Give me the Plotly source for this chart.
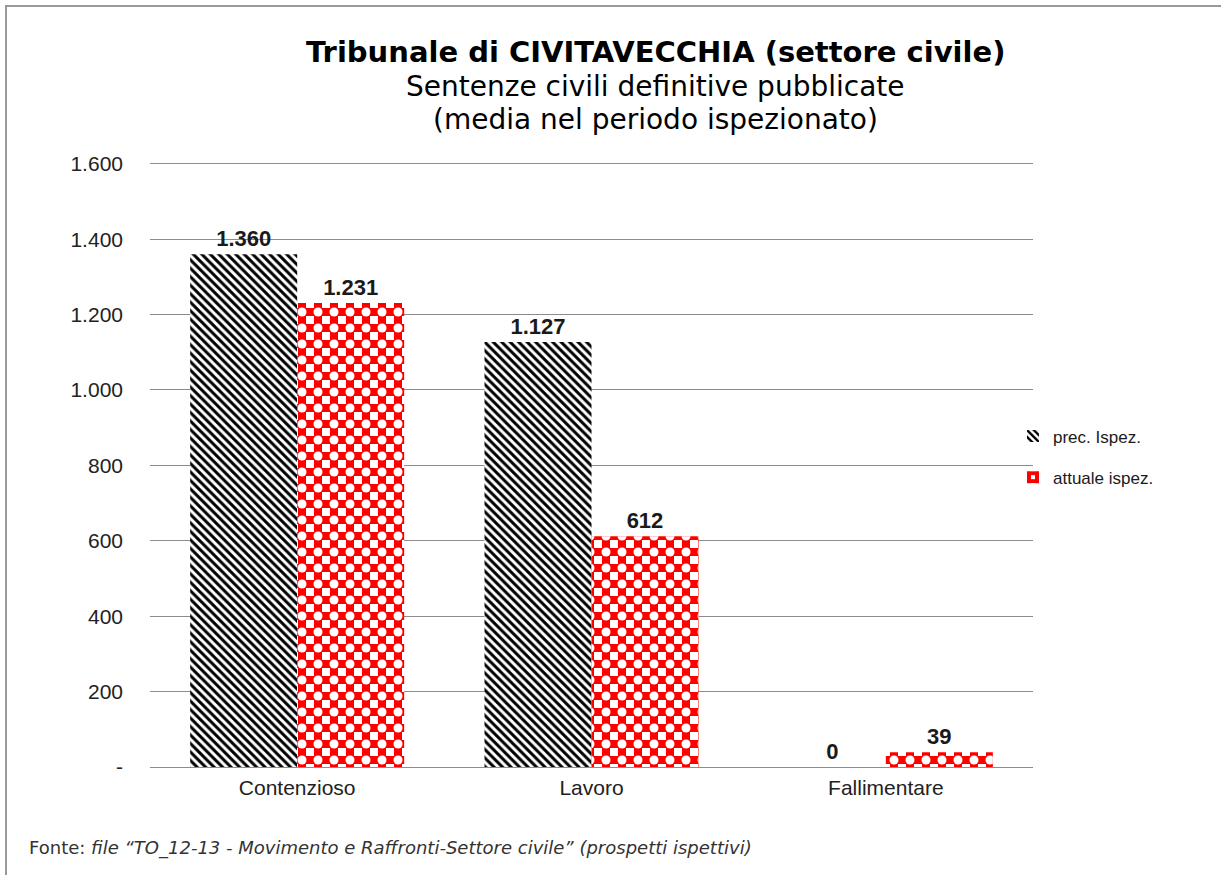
import plotly.graph_objects as go

# data
categories = ["Contenzioso", "Lavoro", "Fallimentare"]
prec_ispez = [1360, 1127, 0]
attuale_ispez = [1231, 612, 39]
series_names = ["prec. Ispez.", "attuale ispez."]

tick_vals = [0, 200, 400, 600, 800, 1000, 1200, 1400, 1600]
tick_text = ["-", "200", "400", "600", "800", "1.000", "1.200", "1.400", "1.600"]

title_lines = ["Tribunale di CIVITAVECCHIA (settore civile)",
               "Sentenze civili definitive pubblicate",
               "(media nel periodo ispezionato)"]
source_note = ("Fonte: <i>file \u201cTO_12-13 - Movimento e Raffronti-Settore civile\u201d "
               "(prospetti ispettivi)</i>")

W, H = 1221, 875
L, R, T, B = 150, 188, 160, 108
PW, PH = W - L - R, H - T - B


def px_x(x):
    # page pixel -> paper x
    return (x - L) / PW


def px_y(y):
    # page pixel -> paper y
    return (H - B - y) / PH


label_font = dict(family="Liberation Sans, Arial", size=22, color="#1a1a1a")

fig = go.Figure()

# previous inspection: black diagonal hatch
fig.add_trace(go.Bar(
    x=categories, y=prec_ispez, name=series_names[0],
    offsetgroup="prec", legendgroup="prec",
    marker=dict(color="white", line_width=0,
                pattern=dict(shape="\\", fgcolor="black", bgcolor="white",
                             size=6, solidity=0.5, fgopacity=1)),
    texttemplate="<b>%{y:,}</b>", textposition="outside",
    textfont=label_font, cliponaxis=False,
))

# current inspection: red checkerboard, built from a red grid ...
fig.add_trace(go.Bar(
    x=categories, y=attuale_ispez, name=series_names[1],
    offsetgroup="att", legendgroup="att",
    marker=dict(color="white", line_width=0,
                pattern=dict(shape="+", fgcolor="#ff0000", bgcolor="white",
                             size=16, solidity=0.75, fgopacity=1)),
    texttemplate="<b>%{y:,}</b>", textposition="outside",
    textfont=label_font, cliponaxis=False,
))
# ... with a white dot punched into every grid crossing
fig.add_trace(go.Bar(
    x=categories, y=attuale_ispez, name=series_names[1],
    offsetgroup="att", legendgroup="att", showlegend=False, hoverinfo="skip",
    marker=dict(color="rgba(0,0,0,0)", line_width=0,
                pattern=dict(shape=".", fgcolor="white", bgcolor="rgba(0,0,0,0)",
                             size=16, solidity=0.25, fgopacity=1)),
))

# title block
title_y = [52, 86, 119]
title_size = [29, 28, 28]
for i, (line, py, fs) in enumerate(zip(title_lines, title_y, title_size)):
    text = "<b>" + line + "</b>" if i == 0 else line
    fig.add_annotation(
        text=text, xref="paper", yref="paper",
        x=px_x(655), y=px_y(py),
        xanchor="center", yanchor="middle", showarrow=False,
        font=dict(family="DejaVu Sans", size=fs, color="black"),
    )

fig.add_annotation(
    text=source_note, xref="paper", yref="paper",
    x=px_x(27), y=px_y(848),
    xanchor="left", yanchor="middle", showarrow=False,
    font=dict(family="DejaVu Sans", size=18, color="#333333"),
)

# outer chart border
fig.add_shape(
    type="rect", xref="paper", yref="paper",
    x0=px_x(6), x1=1.5, y0=-0.5, y1=px_y(6),
    line=dict(color="#999999", width=2), fillcolor="rgba(0,0,0,0)",
)

fig.update_layout(
    width=W, height=H,
    margin=dict(l=L, r=R, t=T, b=B),
    plot_bgcolor="white", paper_bgcolor="white",
    barmode="group", bargap=0.273, bargroupgap=0,
    separators=",.",
    showlegend=True,
    legend=dict(x=px_x(1013), y=px_y(457),
                xanchor="left", yanchor="middle",
                font=dict(family="Liberation Sans, Arial", size=17, color="#1a1a1a"),
                tracegroupgap=16, itemwidth=30, bgcolor="rgba(0,0,0,0)"),
    font=dict(family="Liberation Sans, Arial", color="#333333"),
)

fig.update_yaxes(
    range=[0, 1610], tickvals=tick_vals, ticktext=tick_text,
    showgrid=True, gridcolor="#8c8c8c", gridwidth=1,
    zeroline=True, zerolinecolor="#8c8c8c", zerolinewidth=1,
    showline=False, ticks="", ticklabelstandoff=26,
    tickfont=dict(family="Liberation Sans, Arial", size=21, color="#222222"),
)
fig.update_xaxes(
    showline=False, ticks="", showgrid=False,
    tickfont=dict(family="Liberation Sans, Arial", size=21, color="#222222"),
    ticklabelstandoff=6,
)

# drop the default page margin so the figure sits at the window origin
fig.write_html("out.html", config={"displayModeBar": False},
               post_script="document.body.style.margin='0px';")
